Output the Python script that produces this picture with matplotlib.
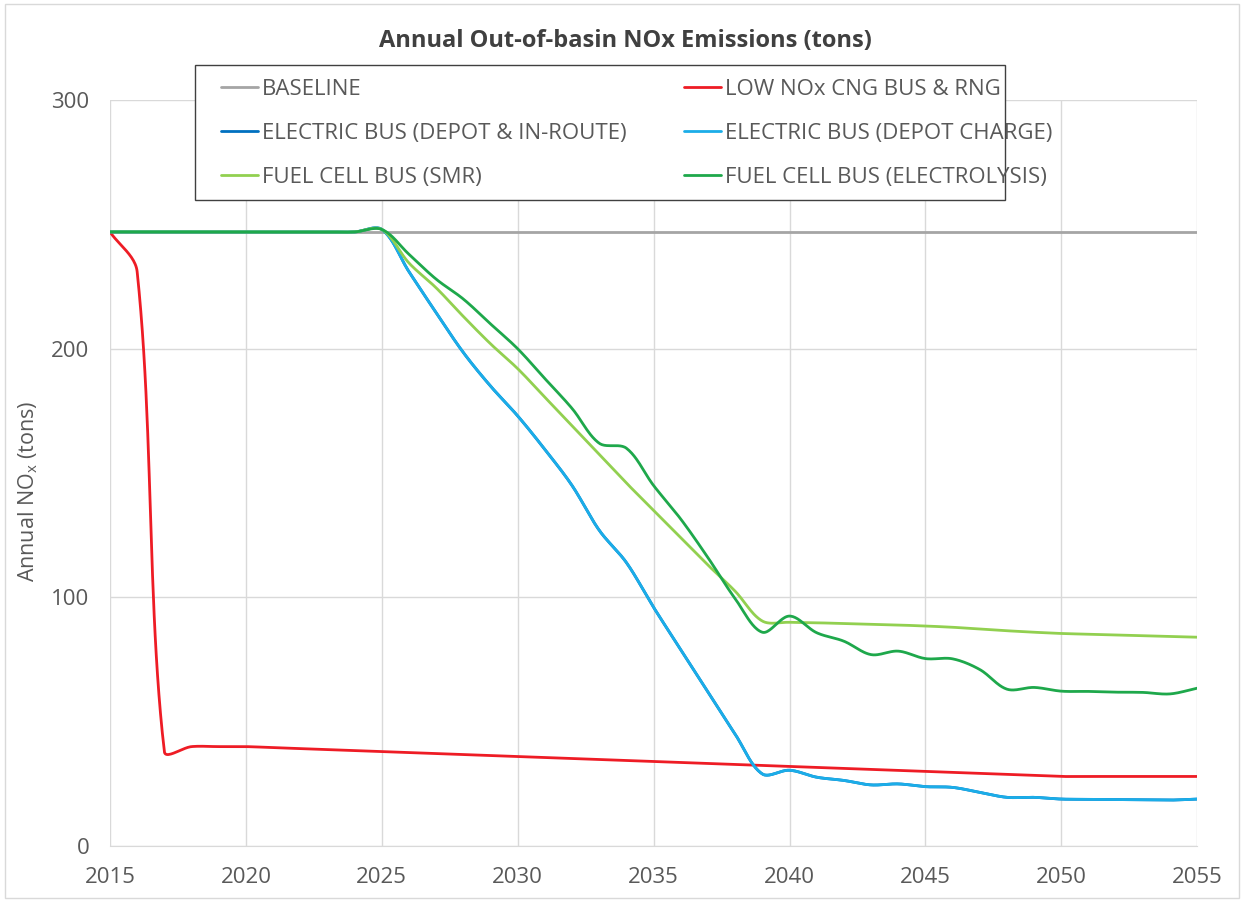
import numpy as np
import matplotlib.pyplot as plt
from matplotlib.patches import Rectangle

# annual values (tons)
years = list(range(2015, 2056))

baseline = [247, 247, 247, 247, 247, 247, 247, 247, 247, 247,
            247, 247, 247, 247, 247, 247, 247, 247, 247, 247,
            247, 247, 247, 247, 247, 247, 247, 247, 247, 247,
            247, 247, 247, 247, 247, 247, 247, 247, 247, 247, 247]

low_nox_cng = [247, 231, 38, 40, 40, 40, 39.6, 39.2, 38.8, 38.4,
               38, 37.6, 37.2, 36.8, 36.4, 36, 35.6, 35.2, 34.8, 34.4,
               34, 33.6, 33.2, 32.8, 32.4, 32, 31.6, 31.2, 30.8, 30.4,
               30, 29.6, 29.2, 28.8, 28.4, 28, 28, 28, 28, 28, 28]

electric_depot_inroute = [247, 247, 247, 247, 247, 247, 247, 247, 247, 247,
                          248, 231, 214.5, 198.5, 185, 173, 159.5, 145, 127, 114,
                          96, 79, 62, 45, 29, 30.5, 27.7, 26.4, 24.6, 25,
                          23.9, 23.6, 21.6, 19.6, 19.6, 18.9, 18.8, 18.7, 18.6, 18.5, 18.9]

electric_depot = [247, 247, 247, 247, 247, 247, 247, 247, 247, 247,
                  248, 231, 214.5, 198.5, 185, 173, 159.5, 145, 127, 114,
                  96, 79, 62, 45, 29, 30.5, 27.7, 26.4, 24.6, 25,
                  23.9, 23.6, 21.6, 19.6, 19.6, 18.9, 18.8, 18.7, 18.6, 18.5, 18.9]

fuel_cell_smr = [247, 247, 247, 247, 247, 247, 247, 247, 247, 247,
                 248, 234.5, 224.5, 213, 202, 192, 180.5, 169, 157.5, 146,
                 135, 124, 113, 102.5, 90.5, 90, 89.8, 89.5, 89.2, 88.9,
                 88.5, 88, 87.3, 86.6, 86, 85.5, 85.2, 84.9, 84.6, 84.3, 84]

fuel_cell_elec = [247, 247, 247, 247, 247, 247, 247, 247, 247, 247,
                  248, 238, 228, 220, 210, 200, 188, 176, 162, 160,
                  145, 131.5, 116, 99.5, 86, 92.5, 85.8, 82.4, 77, 78.4,
                  75.4, 75.3, 71, 63.1, 63.8, 62.3, 62.2, 61.9, 61.8, 61.2, 63.5]


def smooth(x, y, kx, ky, n=24):
    # Excel-like smoothed line: cubic Bezier segments whose control points
    # are scaled by the on-screen chord lengths (kx, ky = pixels per unit)
    x = np.asarray(x, float)
    y = np.asarray(y, float)
    P = np.column_stack([x * kx, y * ky])
    m = len(P)
    L = np.hypot(*np.diff(P, axis=0).T)
    cin = np.zeros_like(P)
    cout = np.zeros_like(P)
    for i in range(m):
        prv = P[max(i - 1, 0)]
        nxt = P[min(i + 1, m - 1)]
        d = nxt - prv
        lp = L[i - 1] if i > 0 else 0.0
        ln = L[i] if i < m - 1 else 0.0
        tot = lp + ln if lp + ln > 0 else 1.0
        cin[i] = P[i] - d * lp / tot / 3
        cout[i] = P[i] + d * ln / tot / 3
    t = np.linspace(0, 1, n, endpoint=False)[:, None]
    pts = []
    for i in range(m - 1):
        b = ((1 - t) ** 3 * P[i] + 3 * t * (1 - t) ** 2 * cout[i]
             + 3 * t ** 2 * (1 - t) * cin[i + 1] + t ** 3 * P[i + 1])
        pts.append(b)
    pts.append(P[-1:])
    pts = np.vstack(pts)
    return pts[:, 0] / kx, pts[:, 1] / ky


plt.rcParams['font.family'] = ['Open Sans', 'DejaVu Sans']
txt = "#595959"
W, H = 1244, 902
fig = plt.figure(figsize=(W / 100, H / 100), dpi=100)
ax = fig.add_axes([0.0884, 0.062, 0.874, 0.827])
ax.set_xlim(2015, 2055)
ax.set_ylim(0, 300)
kx = 0.874 * W / 40
ky = 0.827 * H / 300

series = [
    ("BASELINE", baseline, "#A5A5A5"),
    ("LOW NOx CNG BUS & RNG", low_nox_cng, "#EE1C25"),
    ("ELECTRIC BUS (DEPOT & IN-ROUTE)", electric_depot_inroute, "#0070C0"),
    ("ELECTRIC BUS (DEPOT CHARGE)", electric_depot, "#1BADE8"),
    ("FUEL CELL BUS (SMR)", fuel_cell_smr, "#92D050"),
    ("FUEL CELL BUS (ELECTROLYSIS)", fuel_cell_elec, "#1EA84B"),
]
handles = {}
for label, vals, col in series:
    sx, sy = smooth(years, vals, kx, ky)
    handles[label], = ax.plot(sx, sy, color=col, lw=2.0, label=label,
                              solid_capstyle="round")

ax.set_xticks(range(2015, 2056, 5))
ax.set_yticks([0, 100, 200, 300])
ax.grid(True, color="#D9D9D9", lw=1)
ax.set_axisbelow(True)
for s in ["top", "left", "right"]:
    ax.spines[s].set_visible(False)
ax.spines["bottom"].set_color("#D9D9D9")
ax.tick_params(length=0, labelsize=16, labelcolor=txt)
ax.tick_params(axis="x", pad=15)
ax.tick_params(axis="y", pad=15)

ax.set_ylabel("Annual NO$_\\mathregular{x}$ (tons)", fontsize=15.5, color=txt)
ax.yaxis.set_label_coords(-0.064, 0.475)

fig.text(0.503, 0.955, "Annual Out-of-basin NOx Emissions (tons)", ha="center",
         va="center", fontsize=17, fontweight="bold", color="#404040")

# legend: white frame drawn separately, two columns as two legends
fig.patches.append(Rectangle((195 / W, 1 - 200 / H), 810 / W, 135 / H,
                             transform=fig.transFigure, facecolor="white",
                             edgecolor="#404040", lw=1.0, zorder=5))
cols = [["BASELINE", "ELECTRIC BUS (DEPOT & IN-ROUTE)", "FUEL CELL BUS (SMR)"],
        ["LOW NOx CNG BUS & RNG", "ELECTRIC BUS (DEPOT CHARGE)", "FUEL CELL BUS (ELECTROLYSIS)"]]
for names, x0 in zip(cols, [221, 684]):
    lg = fig.legend([handles[k] for k in names], names, loc="upper left",
                    bbox_to_anchor=(x0 / W, 1 - 79 / H), borderaxespad=0, borderpad=0,
                    fontsize=16, handlelength=1.65, handletextpad=0.18,
                    labelspacing=1.04, frameon=False, labelcolor=txt)
    lg.set_zorder(6)

fig.patches.append(Rectangle((0.004, 0.004), 0.992, 0.992, transform=fig.transFigure,
                             fill=False, edgecolor="#D9D9D9", lw=1))

fig.savefig("out.png", dpi=100)
